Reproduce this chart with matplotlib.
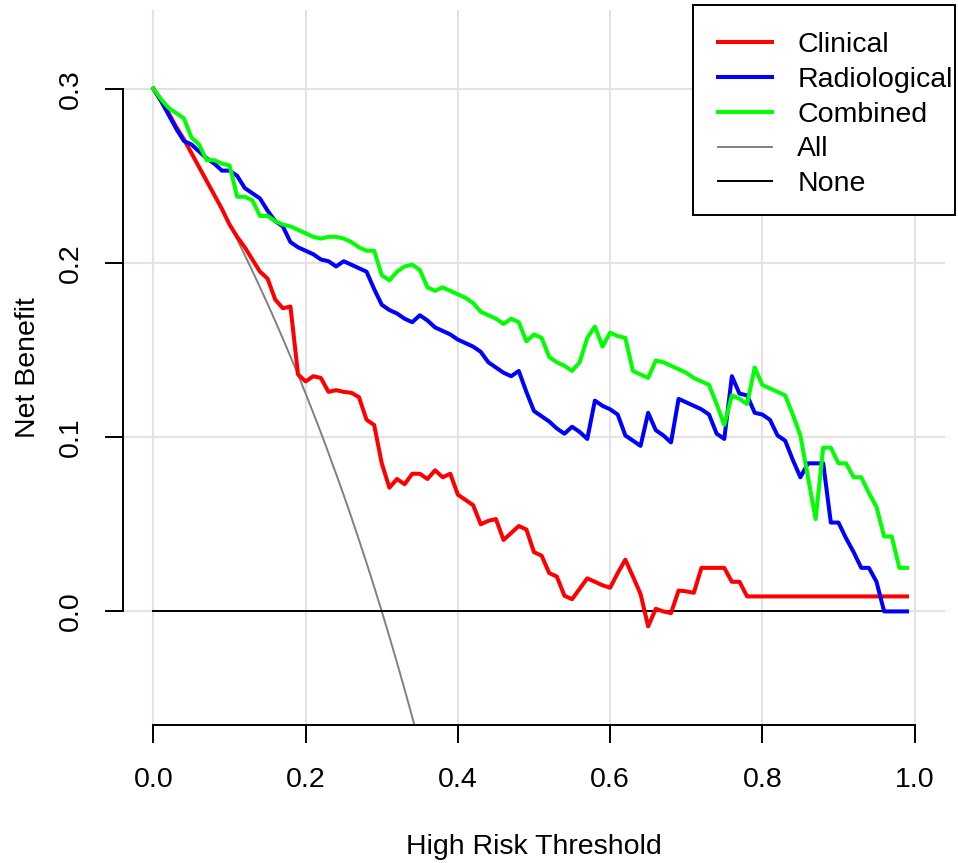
import numpy as np
import matplotlib.pyplot as plt
from matplotlib.patches import Rectangle

# decision curve values, thresholds 0.00 .. 0.99
thresholds = np.round(np.arange(100) * 0.01, 2)

clinical = [
    0.300, 0.293, 0.286, 0.278, 0.271, 0.263, 0.255, 0.247, 0.239, 0.231,
    0.222, 0.215, 0.209, 0.202, 0.195, 0.191, 0.179, 0.174, 0.175, 0.136,
    0.132, 0.135, 0.134, 0.126, 0.127, 0.126, 0.1255, 0.123, 0.110, 0.107,
    0.085, 0.071, 0.076, 0.073, 0.079, 0.079, 0.076, 0.081, 0.077, 0.079,
    0.067, 0.064, 0.061, 0.050, 0.052, 0.053, 0.041, 0.045, 0.049, 0.047,
    0.034, 0.032, 0.022, 0.020, 0.009, 0.007, 0.013, 0.019, 0.017, 0.015,
    0.0136, 0.022, 0.0297, 0.020, 0.010, -0.0086, 0.0015, 0.000, -0.001, 0.012,
    0.0115, 0.0107, 0.025, 0.025, 0.025, 0.025, 0.017, 0.017, 0.0086, 0.0086,
    0.0086, 0.0086, 0.0086, 0.0086, 0.0086, 0.0086, 0.0086, 0.0086, 0.0086, 0.0086,
    0.0086, 0.0086, 0.0086, 0.0086, 0.0086, 0.0086, 0.0086, 0.0086, 0.0086, 0.0086,
]

radiological = [
    0.300, 0.293, 0.285, 0.277, 0.270, 0.268, 0.264, 0.260, 0.257, 0.253,
    0.253, 0.250, 0.243, 0.240, 0.237, 0.230, 0.224, 0.221, 0.212, 0.209,
    0.207, 0.205, 0.202, 0.201, 0.198, 0.201, 0.199, 0.197, 0.195, 0.185,
    0.176, 0.173, 0.171, 0.168, 0.166, 0.170, 0.167, 0.163, 0.161, 0.159,
    0.156, 0.154, 0.152, 0.149, 0.143, 0.140, 0.137, 0.135, 0.138, 0.126,
    0.115, 0.112, 0.109, 0.105, 0.102, 0.106, 0.103, 0.099, 0.121, 0.118,
    0.116, 0.113, 0.101, 0.098, 0.095, 0.114, 0.104, 0.101, 0.097, 0.122,
    0.120, 0.118, 0.116, 0.113, 0.102, 0.099, 0.135, 0.125, 0.124, 0.114,
    0.113, 0.110, 0.101, 0.098, 0.087, 0.077, 0.085, 0.085, 0.085, 0.051,
    0.051, 0.042, 0.034, 0.025, 0.025, 0.017, 0.000, 0.000, 0.000, 0.000,
]

combined = [
    0.300, 0.294, 0.289, 0.286, 0.283, 0.272, 0.268, 0.259, 0.259, 0.257,
    0.256, 0.238, 0.238, 0.236, 0.227, 0.227, 0.224, 0.222, 0.221, 0.219,
    0.217, 0.215, 0.214, 0.215, 0.215, 0.214, 0.212, 0.209, 0.207, 0.207,
    0.193, 0.190, 0.195, 0.198, 0.199, 0.196, 0.186, 0.184, 0.186, 0.184,
    0.182, 0.180, 0.177, 0.172, 0.170, 0.168, 0.165, 0.168, 0.166, 0.155,
    0.159, 0.157, 0.146, 0.143, 0.141, 0.138, 0.143, 0.157, 0.1635, 0.152,
    0.160, 0.158, 0.157, 0.138, 0.136, 0.134, 0.144, 0.143, 0.141, 0.139,
    0.137, 0.134, 0.132, 0.130, 0.119, 0.107, 0.124, 0.122, 0.119, 0.140,
    0.130, 0.128, 0.126, 0.124, 0.113, 0.101, 0.077, 0.053, 0.094, 0.094,
    0.085, 0.085, 0.077, 0.077, 0.068, 0.060, 0.043, 0.043, 0.025, 0.025,
]

# treat-all curve (only the part that is inside the plot window)
all_thresholds = thresholds[:36]
treat_all = [
    0.300, 0.2929, 0.2857, 0.2784, 0.2708, 0.2632, 0.2553, 0.2473, 0.2391, 0.2308,
    0.2222, 0.2135, 0.2045, 0.1954, 0.1860, 0.1765, 0.1667, 0.1566, 0.1463, 0.1358,
    0.1250, 0.1139, 0.1026, 0.0909, 0.0789, 0.0667, 0.0541, 0.0411, 0.0278, 0.0141,
    0.0000, -0.0145, -0.0294, -0.0448, -0.0606, -0.0769,
]
treat_none = [0.0] * len(thresholds)

plt.rcParams['font.family'] = ['Liberation Sans', 'DejaVu Sans']
FS = 20.5
W, H = 958, 863

fig = plt.figure(figsize=(W / 100, H / 100), dpi=100)
ax = fig.add_axes([123 / W, 1 - 725 / H, 822 / W, 715 / H])

ax.plot(all_thresholds, treat_all, color='#808080', lw=1.4, label='All', zorder=2)
ax.plot(thresholds, treat_none, color='black', lw=1.4, label='None', zorder=2)
ax.plot(thresholds, clinical, color='#FF0000', lw=2.9, label='Clinical', zorder=3)
ax.plot(thresholds, radiological, color='#0000FF', lw=2.9, label='Radiological', zorder=4)
ax.plot(thresholds, combined, color='#00FF00', lw=2.9, label='Combined', zorder=5)

ax.set_xlim(-0.04, 1.04)
ax.set_ylim(-0.0652, 0.3452)
ax.set_xticks([0.0, 0.2, 0.4, 0.6, 0.8, 1.0])
ax.set_xticklabels(['0.0', '0.2', '0.4', '0.6', '0.8', '1.0'])
ax.set_yticks([0.0, 0.1, 0.2, 0.3])
ax.set_yticklabels(['0.0', '0.1', '0.2', '0.3'], rotation=90, va='center')

ax.grid(True, color='#e3e3e3', lw=1.5, zorder=0)
ax.set_axisbelow(True)

for side in ['top', 'right']:
    ax.spines[side].set_visible(False)
ax.spines['left'].set_bounds(0, 0.3)
ax.spines['bottom'].set_bounds(0, 1.0)
for side in ['left', 'bottom']:
    ax.spines[side].set_linewidth(1.4)
ax.tick_params(direction='out', length=13, width=1.4, labelsize=FS)
ax.tick_params(axis='x', pad=17.5)
ax.tick_params(axis='y', pad=15)

ax.set_xlabel('High Risk Threshold', fontsize=FS, va='center')
ax.xaxis.set_label_coords(0.5, -0.1706)
ax.set_ylabel('Net Benefit', fontsize=FS, va='center')
ax.yaxis.set_label_coords(-0.1156, 0.5)

# legend box drawn by hand so it can hug the text like the R legend does
box = Rectangle((693 / W, 1 - 215 / H), 262 / W, 210 / H, transform=fig.transFigure,
                facecolor='white', edgecolor='black', lw=1.4, clip_on=False, zorder=10)
ax.add_patch(box)

handles, labels = ax.get_legend_handles_labels()
order = [2, 3, 4, 0, 1]
leg = ax.legend([handles[i] for i in order], [labels[i] for i in order],
                loc='upper left', bbox_to_anchor=(718 / W, 1 - 32 / H),
                bbox_transform=fig.transFigure, fontsize=FS, frameon=False,
                borderpad=0, labelspacing=0.31,
                handlelength=1.9, handletextpad=0.88, borderaxespad=0)
leg.set_zorder(11)

plt.savefig('out.png', dpi=100)
